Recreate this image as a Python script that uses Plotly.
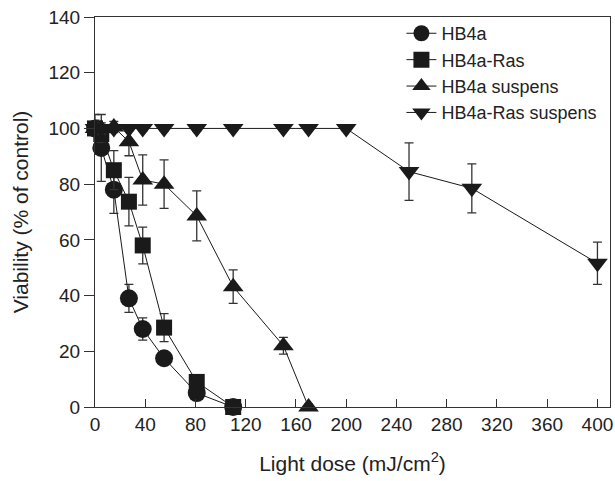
import plotly.graph_objects as go

# ---- data ----
hb4a_x = [0, 5, 15, 27, 38, 55, 81, 110]
hb4a_y = [100, 93, 78, 39, 28, 17.5, 5, 0]
hb4a_err = [5, 12, 8.5, 5, 4, 2, 2, 1]

ras_x = [0, 5, 15, 27, 38, 55, 81, 110]
ras_y = [100, 98, 85, 73.7, 58, 28.5, 9, 0]
ras_err = [3, 3, 7, 8.7, 6.6, 5, 2, 1]

susp_x = [0, 5, 15, 27, 38, 55, 81, 110, 150, 170]
susp_y = [100, 100, 100.5, 95.2, 81.5, 80, 68.6, 43.2, 22, 0]
susp_err = [2, 2, 2, 5, 9, 8.7, 9, 6, 3, 1]

rassusp_x = [0, 5, 15, 27, 38, 55, 81, 110, 150, 170, 200, 250, 300, 400]
rassusp_y = [100, 100, 100, 100, 100, 100, 100, 100, 100, 100, 100, 84.5, 78.5, 51.6]
rassusp_err = [1, 1, 1, 1, 1, 1, 1, 1, 1, 1, 1, 10.3, 8.8, 7.6]

names = ["HB4a", "HB4a-Ras", "HB4a suspens", "HB4a-Ras suspens"]
symbols = ["circle", "square", "triangle-up", "triangle-down"]
sizes = [18, 16, 18, 18]

x_ticks = [0, 40, 80, 120, 160, 200, 240, 280, 320, 360, 400]
y_ticks = [0, 20, 40, 60, 80, 100, 120, 140]

series = [(hb4a_x, hb4a_y, hb4a_err), (ras_x, ras_y, ras_err),
          (susp_x, susp_y, susp_err), (rassusp_x, rassusp_y, rassusp_err)]

FONT = "Arial, Liberation Sans, sans-serif"
INK = "#1a1a1a"

fig = go.Figure()
for (xs, ys, es), nm, sym, sz in zip(series, names, symbols, sizes):
    fig.add_trace(go.Scatter(
        x=xs, y=ys, name=nm, mode="lines+markers",
        line=dict(color=INK, width=1),
        marker=dict(symbol=sym, size=sz, color=INK, line=dict(width=0)),
        error_y=dict(type="data", array=es, visible=True,
                     color="#333333", thickness=1.3, width=4.5),
        cliponaxis=False,
    ))

fig.update_layout(
    width=615, height=481,
    margin=dict(l=95, r=2, t=17, b=74),
    paper_bgcolor="white", plot_bgcolor="white",
    font=dict(family=FONT, size=19, color="#222222"),
    showlegend=True,
    legend=dict(x=0.595, y=1.005, xanchor="left", yanchor="top",
                bgcolor="rgba(0,0,0,0)", borderwidth=0,
                font=dict(size=18, color="#222222"),
                tracegroupgap=0),
    xaxis=dict(range=[0, 410], tickvals=x_ticks, ticks="inside", ticklen=8,
               tickwidth=1, tickcolor="#333333",
               showline=True, linecolor="#333333", linewidth=1.2, mirror=True,
               showgrid=False, zeroline=False, ticklabeloverflow="allow",
               title=dict(text="Light dose (mJ/cm<sup>2</sup>)", standoff=22,
                          font=dict(size=21)),
               tickfont=dict(size=19)),
    yaxis=dict(range=[0, 140], tickvals=y_ticks, ticks="outside", ticklen=10,
               tickwidth=1, tickcolor="#333333",
               showline=True, linecolor="#333333", linewidth=1.2, mirror=True,
               showgrid=False, zeroline=False, ticklabeloverflow="allow",
               title=dict(text="Viability (% of control)", standoff=14,
                          font=dict(size=21)),
               tickfont=dict(size=19)),
)

fig.write_html("out.html")
